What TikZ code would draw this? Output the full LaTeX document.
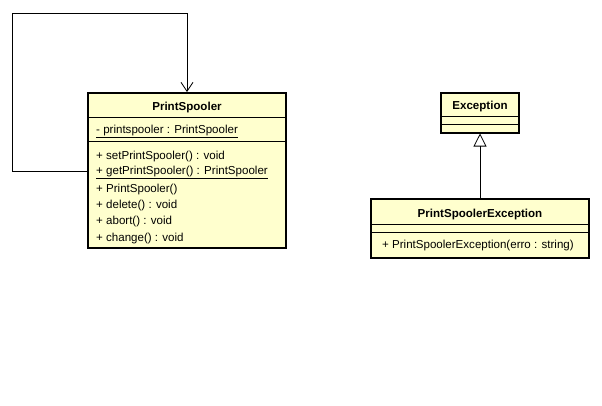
\documentclass[tikz,border=0pt]{standalone}
\usepackage{fontspec}
\setmainfont{Liberation Sans}
\usetikzlibrary{arrows.meta}
\definecolor{classyellow}{RGB}{255,255,206}
\tikzset{
  classbox/.style={draw=black,line width=2pt,fill=classyellow,inner sep=0pt},
  sepline/.style={black,line width=0.8pt},
  cname/.style={font=\fontsize{11.6}{13}\selectfont\bfseries,inner sep=0pt},
  member/.style={font=\fontsize{11.6}{13}\selectfont,anchor=west,inner sep=0pt},
  selfref/.style={-{Straight Barb[length=9bp,width=12bp,line width=0.8pt]},line width=0.8pt},
  inherit/.style={-{Triangle[open,length=13bp,width=13bp,line width=0.8pt]},line width=0.8pt},
}

\begin{document}
\begin{tikzpicture}[x=1bp,y=-1bp]
  \path[use as bounding box,fill=white] (0,0) rectangle (602,405);

  % PrintSpooler class
  \node[classbox,minimum width=198bp,minimum height=155bp] (spooler) at (187,170.5) {};
  \node[cname] (spoolername) at (187,108) {PrintSpooler};
  \draw[sepline] (spooler.west |- 0,117) -- (spooler.east |- 0,117);
  \draw[sepline] (spooler.west |- 0,141) -- (spooler.east |- 0,141);
  \node[member] (spoolerattr) at (96,131.5) {\underline{- printspooler : PrintSpooler}};
  \foreach \yy/\txt in {
    156.5/{+ setPrintSpooler() : void},
    172.5/{\underline{+ getPrintSpooler() : PrintSpooler}},
    189.5/{+ PrintSpooler()},
    205.5/{+ delete() : void},
    221.5/{+ abort() : void},
    238.5/{+ change() : void}
  }{
    \node[member] at (96,\yy) {\txt};
  }

  % Exception class
  \node[classbox,minimum width=78bp,minimum height=40bp] (exc) at (480,112.5) {};
  \node[cname] (excname) at (480,106.5) {Exception};
  \draw[sepline] (exc.west |- 0,116) -- (exc.east |- 0,116);
  \draw[sepline] (exc.west |- 0,124) -- (exc.east |- 0,124);

  % PrintSpoolerException class
  \node[classbox,minimum width=218bp,minimum height=59bp] (pse) at (480,228.5) {};
  \node[cname] (psename) at (480,214.5) {PrintSpoolerException};
  \draw[sepline] (pse.west |- 0,224) -- (pse.east |- 0,224);
  \draw[sepline] (pse.west |- 0,232) -- (pse.east |- 0,232);
  \node[member] (psector) at (382,245.5) {+ PrintSpoolerException(erro : string)};

  % relations
  \coordinate (loopa) at (12,171);
  \coordinate (loopb) at (12,13);
  \coordinate (loopc) at (187,13);
  \draw[selfref] (spooler.west |- loopa) -- (loopa) -- (loopb) -- (loopc) -- (spooler.north);
  \draw[inherit] (pse.north) -- (exc.south);
\end{tikzpicture}
\end{document}
